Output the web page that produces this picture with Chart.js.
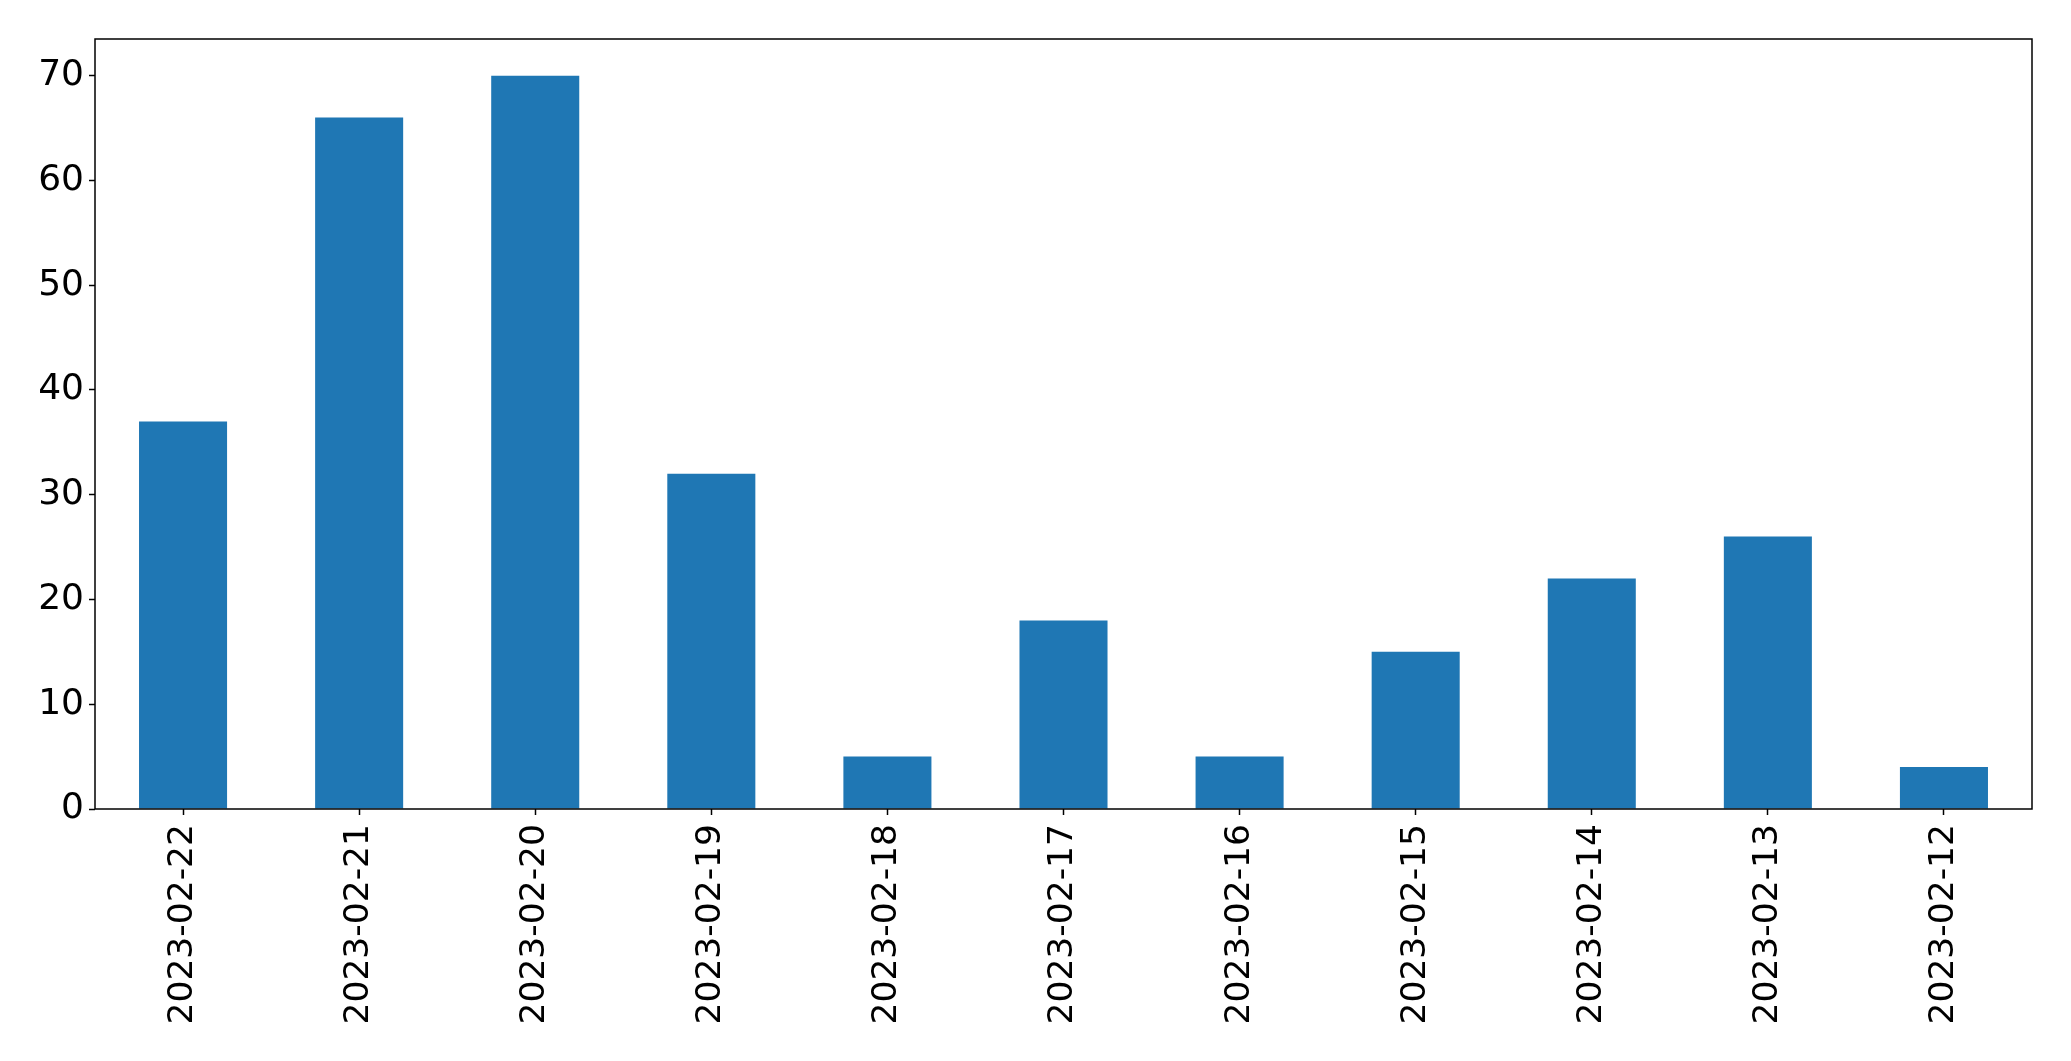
<!DOCTYPE html>
<html>
<head>
<meta charset="utf-8">
<script src="https://cdn.jsdelivr.net/npm/chart.js@4"></script>
<style>
html,body{margin:0;padding:0;background:#fff;}
#wrap{width:2071px;height:1061px;position:relative;}
</style>
</head>
<body>
<div id="wrap"><canvas id="c" width="2071" height="1061"></canvas></div>
<script>
const categories = ["2023-02-22","2023-02-21","2023-02-20","2023-02-19","2023-02-18","2023-02-17","2023-02-16","2023-02-15","2023-02-14","2023-02-13","2023-02-12"];
const values = [37, 66, 70, 32, 5, 18, 5, 15, 22, 26, 4];
const yTicks = [0, 10, 20, 30, 40, 50, 60, 70];
const yMax = 73.5;

const frame = {
  id: 'frame',
  afterDraw(chart) {
    const {ctx, chartArea: a} = chart;
    ctx.save();
    ctx.strokeStyle = '#000';
    ctx.lineWidth = 1.5;
    ctx.strokeRect(a.left, a.top, a.right - a.left, a.bottom - a.top);
    ctx.restore();
  }
};

Chart.defaults.font.family = "'DejaVu Sans', sans-serif";
Chart.defaults.color = '#000';

new Chart(document.getElementById('c'), {
  type: 'bar',
  data: {
    labels: categories,
    datasets: [{
      data: values,
      backgroundColor: '#1f77b4',
      borderWidth: 0,
      barPercentage: 0.5,
      categoryPercentage: 1.0
    }]
  },
  options: {
    responsive: false,
    animation: false,
    devicePixelRatio: 1,
    layout: { padding: { top: 39, right: 39, left: 0, bottom: 0 } },
    plugins: { legend: { display: false }, tooltip: { enabled: false } },
    scales: {
      x: {
        grid: { display: true, drawOnChartArea: false, offset: false, tickLength: 6, tickColor: '#000', tickWidth: 1.5 },
        border: { display: false },
        ticks: { minRotation: 90, maxRotation: 90, autoSkip: false, padding: 9, font: { size: 34.5 }, color: '#000' },
        afterFit(s) { s.height = 252; }
      },
      y: {
        min: 0, max: yMax,
        grid: { display: true, drawOnChartArea: false, tickLength: 6, tickColor: '#000', tickWidth: 1.5 },
        border: { display: false },
        ticks: { padding: 5, font: { size: 36 }, color: '#000' },
        afterBuildTicks(s) { s.ticks = yTicks.map(v => ({ value: v })); },
        afterFit(s) { s.width = 95; }
      }
    }
  },
  plugins: [frame]
});
</script>
</body>
</html>
